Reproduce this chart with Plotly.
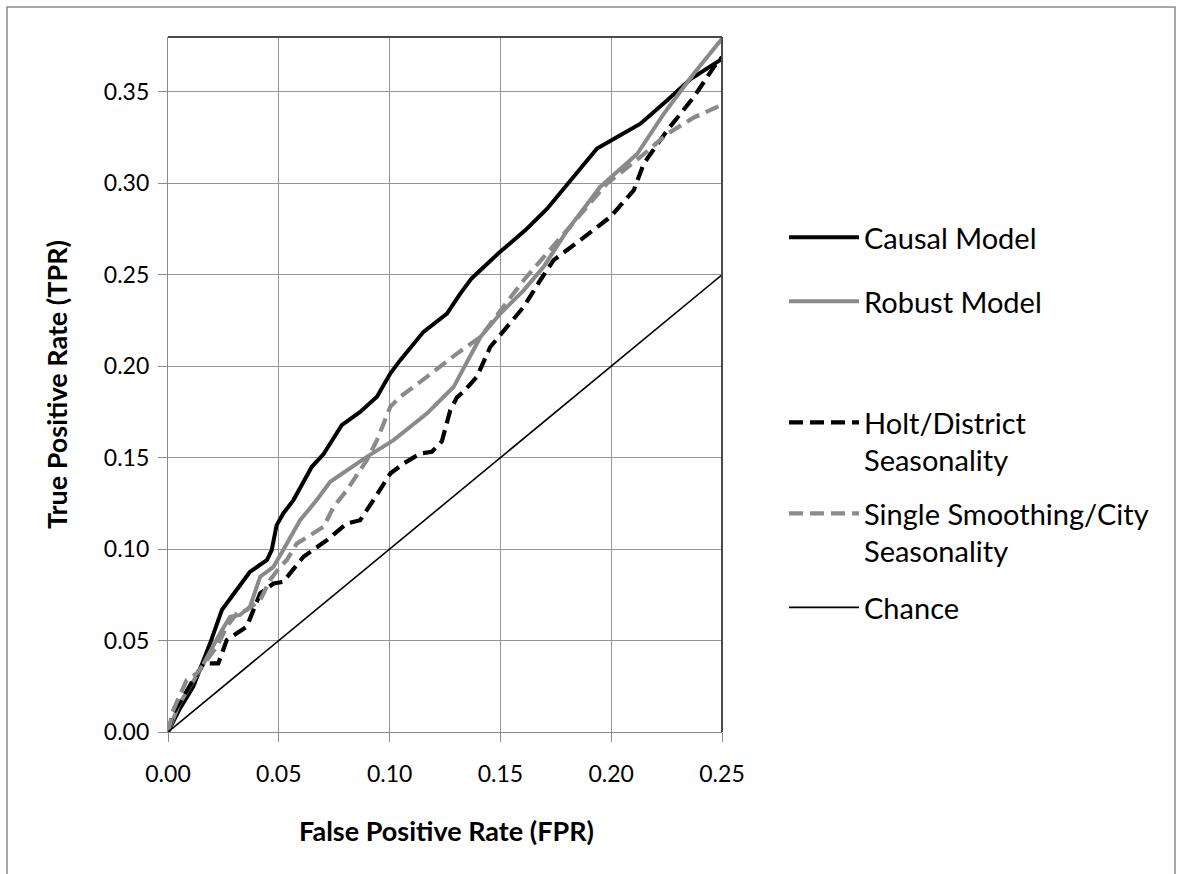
import plotly.graph_objects as go

# ---- data ----
causal_fpr = [0, 0.005, 0.0114, 0.0167, 0.019, 0.0243, 0.028, 0.037, 0.0446, 0.0468, 0.049, 0.052,
              0.0566, 0.0649, 0.0702, 0.0784, 0.0867, 0.0943, 0.1003, 0.1048, 0.1153, 0.1259, 0.1319,
              0.137, 0.149, 0.1612, 0.171, 0.1816, 0.1936, 0.2027, 0.2132, 0.2253, 0.2358, 0.25]
causal_tpr = [0, 0.012, 0.0248, 0.041, 0.0485, 0.0667, 0.073, 0.0876, 0.094, 0.0995, 0.113, 0.1195,
              0.1268, 0.145, 0.152, 0.1678, 0.175, 0.1833, 0.196, 0.2033, 0.2188, 0.2288, 0.2397,
              0.248, 0.2616, 0.2743, 0.286, 0.3016, 0.319, 0.3253, 0.3326, 0.3454, 0.357, 0.368]

robust_fpr = [0, 0.005, 0.01, 0.015, 0.0235, 0.028, 0.0325, 0.037, 0.0416, 0.0476, 0.052, 0.0596,
              0.0671, 0.0732, 0.0897, 0.1018, 0.1168, 0.1289, 0.141, 0.15, 0.1605, 0.1695, 0.18,
              0.195, 0.2117, 0.2237, 0.2373, 0.25]
robust_tpr = [0, 0.015, 0.025, 0.035, 0.054, 0.063, 0.064, 0.0685, 0.0849, 0.0903, 0.0995, 0.1158,
              0.1268, 0.1368, 0.1504, 0.1596, 0.1741, 0.1887, 0.216, 0.2288, 0.2415, 0.2543, 0.274,
              0.298, 0.316, 0.338, 0.36, 0.379]

holt_fpr = [0, 0.0024, 0.0114, 0.016, 0.0227, 0.0265, 0.0355, 0.0393, 0.0416, 0.0476, 0.052, 0.0611,
            0.0717, 0.0807, 0.0867, 0.0927, 0.1003, 0.1063, 0.1138, 0.1191, 0.1236, 0.1274, 0.1304,
            0.1334, 0.1394, 0.1454, 0.153, 0.1605, 0.168, 0.174, 0.186, 0.1996, 0.2102, 0.2147,
            0.2253, 0.2373, 0.2463, 0.25]
holt_tpr = [0, 0.0102, 0.0284, 0.0375, 0.0375, 0.0503, 0.0575, 0.0685, 0.0758, 0.0812, 0.0821, 0.0958,
            0.1049, 0.114, 0.1158, 0.1268, 0.1413, 0.1468, 0.1523, 0.1532, 0.159, 0.176, 0.183,
            0.186, 0.1942, 0.2105, 0.2215, 0.2324, 0.247, 0.258, 0.2689, 0.2816, 0.2962, 0.3108,
            0.329, 0.3472, 0.3635, 0.369]

single_fpr = [0, 0.0024, 0.0084, 0.013, 0.022, 0.0265, 0.031, 0.0355, 0.0416, 0.046, 0.0506, 0.0536,
              0.0581, 0.0656, 0.0702, 0.0747, 0.0807, 0.0897, 0.0943, 0.1003, 0.1048, 0.1168, 0.1304,
              0.141, 0.15, 0.1605, 0.18, 0.198, 0.2132, 0.2253, 0.2373, 0.25]
single_tpr = [0, 0.012, 0.0284, 0.032, 0.0466, 0.0575, 0.0648, 0.0667, 0.0721, 0.083, 0.0903, 0.094,
              0.103, 0.1086, 0.1122, 0.1231, 0.1322, 0.1486, 0.1596, 0.1778, 0.1833, 0.1942, 0.2069,
              0.216, 0.2306, 0.247, 0.2743, 0.2998, 0.3144, 0.327, 0.336, 0.343]

chance_fpr = [0, 0.25]
chance_tpr = [0, 0.25]

tick_vals_x = [0.0, 0.05, 0.10, 0.15, 0.20, 0.25]
tick_vals_y = [0.0, 0.05, 0.10, 0.15, 0.20, 0.25, 0.30, 0.35]

names = ["Causal Model", "Robust Model", "Holt/District<br>Seasonality",
         "Single Smoothing/City<br>Seasonality", "Chance"]

BLACK = "#000000"
GRAY = "#8a8a8a"
FONT = "Lato"

fig = go.Figure()
series = [
    (causal_fpr, causal_tpr, BLACK, 4, "solid", "legend"),
    (robust_fpr, robust_tpr, GRAY, 4, "solid", "legend2"),
    (holt_fpr, holt_tpr, BLACK, 4.2, "14px,7px", "legend3"),
    (single_fpr, single_tpr, GRAY, 4.2, "14px,7px", "legend4"),
    (chance_fpr, chance_tpr, BLACK, 1.6, "solid", "legend5"),
]
for (xs, ys, col, w, dash, lg), nm in zip(series, names):
    fig.add_trace(go.Scatter(x=xs, y=ys, mode="lines", name=nm,
                             line=dict(color=col, width=w, dash=dash),
                             legend=lg))

# pixel helpers for layout placement
L, R, T, B = 168, 722, 37, 732
W, H = 1180, 874
def px(xp):
    return (xp - L) / (R - L)
def py(yp):
    return (B - yp) / (B - T)

leg_common = dict(font=dict(family=FONT, size=29, color="#000"), bgcolor="rgba(0,0,0,0)",
                  borderwidth=0, itemwidth=70, xanchor="left", yanchor="top", valign="top",
                  x=px(784))
leg_tops = [238, 302, 423, 514, 608]
layout_legends = {}
for i, yc in enumerate(leg_tops):
    key = "legend" if i == 0 else f"legend{i+1}"
    layout_legends[key] = dict(leg_common, y=py(yc - 26))

axis_common = dict(showgrid=True, gridcolor="#959595", gridwidth=1.3, zeroline=False,
                   showline=True, linecolor="#8a8a8a", linewidth=1.3, ticks="outside",
                   ticklen=9, tickcolor="#8a8a8a", tickwidth=1.3,
                   tickfont=dict(family=FONT, size=23, color="#000"))

fig.update_layout(
    width=W, height=H,
    margin=dict(l=L, r=W - R, t=T, b=H - B),
    paper_bgcolor="white", plot_bgcolor="white",
    showlegend=True,
    xaxis=dict(axis_common, range=[0, 0.25], tickvals=tick_vals_x, tickformat=".2f",
               ticklabelstandoff=12),
    yaxis=dict(axis_common, range=[0, 0.38], tickvals=tick_vals_y, tickformat=".2f",
               ticklabelstandoff=4),
    **layout_legends,
    annotations=[
        dict(text="<b>False Positive Rate (FPR)</b>", xref="paper", yref="paper",
             x=px(446), y=py(830), xanchor="center", yanchor="middle", showarrow=False,
             font=dict(family=FONT, size=27, color="#000")),
        dict(text="<b>True Positive Rate (TPR)</b>", xref="paper", yref="paper",
             x=px(57), y=py(385), xanchor="center", yanchor="middle", showarrow=False,
             textangle=-90, font=dict(family=FONT, size=27, color="#000")),
    ],
    shapes=[
        # plot-area border (top and right darker)
        dict(type="line", xref="paper", yref="paper", x0=0, x1=1, y0=1, y1=1,
             line=dict(color="#4a4a4a", width=2)),
        dict(type="line", xref="paper", yref="paper", x0=1, x1=1, y0=0, y1=1,
             line=dict(color="#4a4a4a", width=2)),
        # outer chart border
        dict(type="rect", xref="paper", yref="paper", x0=px(7), x1=px(1175),
             y0=py(900), y1=py(7), line=dict(color="#8a8a8a", width=1.5), layer="below"),
    ],
)

fig.write_html("out.html")
